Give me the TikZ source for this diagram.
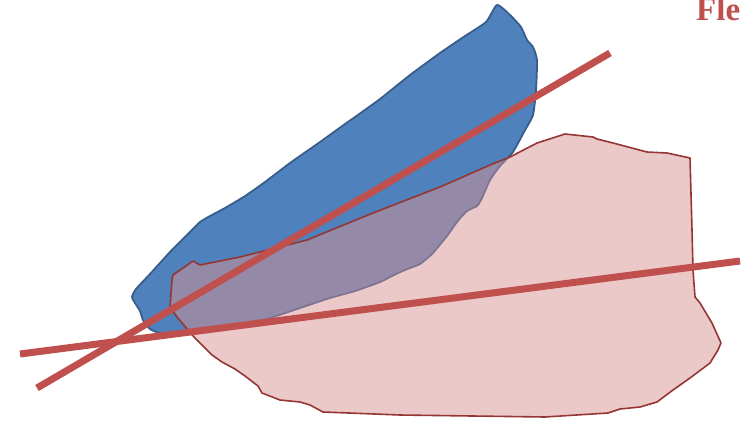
\documentclass[tikz,border=0pt]{standalone}
\usepackage{fontspec}
\setmainfont{Liberation Serif}
\definecolor{cblue}{HTML}{4F81BD}
\definecolor{cblueedge}{HTML}{385D8A}
\definecolor{cred}{HTML}{C0504D}
\definecolor{credge}{HTML}{943634}
\definecolor{cpink}{HTML}{ECC9C9}
\definecolor{cmix}{HTML}{9489A6}
\definecolor{cmixedge}{HTML}{7E7592}
\tikzset{
  every picture/.style={x=1pt, y=-1pt},
  blueblob/.style={fill=cblue, draw=cblueedge, line width=1.8pt, line join=round},
  mixblob/.style={fill=cmix, draw=cmixedge, line width=1.8pt, line join=round},
  pinkblob/.style={draw=credge, line width=1.6pt, line join=round},
  fitline/.style={draw=cred, line width=7pt},
  title/.style={font=\bfseries\fontsize{33}{36}\selectfont, text=cred, inner sep=0pt, anchor=base west},
}
\newcommand{\bluepath}{plot[smooth cycle, tension=0.35] coordinates {
  (497,5) (510,15) (521,27) (527,40) (533,47) (537,60) (536,90) (533,115)
  (524,132) (513,152) (500,166) (490,180) (482,198) (477,206) (467,211)
  (457,222) (447,236) (432,254) (420,264) (410,268) (398,273) (380,282)
  (355,291) (330,298) (300,308) (270,318) (240,325) (200,330) (162,333)
  (150,329) (143,320) (140,311) (135,303) (132,297) (136,289) (150,274)
  (170,252) (190,232) (200,222) (210,216) (225,208) (245,196) (265,182)
  (290,163) (320,142) (345,124) (355,117) (380,99) (410,75) (440,53)
  (465,36) (486,22)}}
\newcommand{\pinkpath}{(193,261) -- (200,265) -- (240,257) -- (307,240)
  -- (373,213) -- (440,187) -- (490,165) -- (510,157) -- (537,143)
  -- (565,134) -- (593,137) -- (597,139) -- (613,143) -- (647,152)
  -- (667,153) -- (690,158) -- (692,230) -- (693,270) -- (695,297)
  -- (700,303) -- (712,323) -- (721,343) -- (718,350) -- (710,363)
  -- (690,378) -- (673,390) -- (657,402) -- (640,407) -- (620,409)
  -- (608,413) -- (545,417) -- (400,415) -- (323,412) -- (310,405)
  -- (300,402) -- (280,400) -- (262,393) -- (258,386) -- (245,376)
  -- (235,369) -- (222,362) -- (212,355) -- (194,337) -- (177,317)
  -- (170,307) -- (172,280) -- (173,275) -- cycle}

\begin{document}
\begin{tikzpicture}
  \useasboundingbox (0,0) rectangle (742,421);
  \clip (0,0) rectangle (742,421);

  % ---- blue blob and pink region
  \draw[blueblob] \bluepath;
  \fill[cpink] \pinkpath;
  \begin{scope}
    \clip \pinkpath;
    \draw[mixblob] \bluepath;
  \end{scope}
  \draw[pinkblob] \pinkpath;

  % ---- fitted lines
  \coordinate (a1) at (37,388);
  \coordinate (a2) at (610,53);
  \coordinate (b1) at (20,354);
  \coordinate (b2) at (740,261);
  \draw[fitline] (a1) -- (a2);
  \draw[fitline] (b1) -- (b2);

  \node[title] (head) at (696,20) {Fle};
\end{tikzpicture}
\end{document}
